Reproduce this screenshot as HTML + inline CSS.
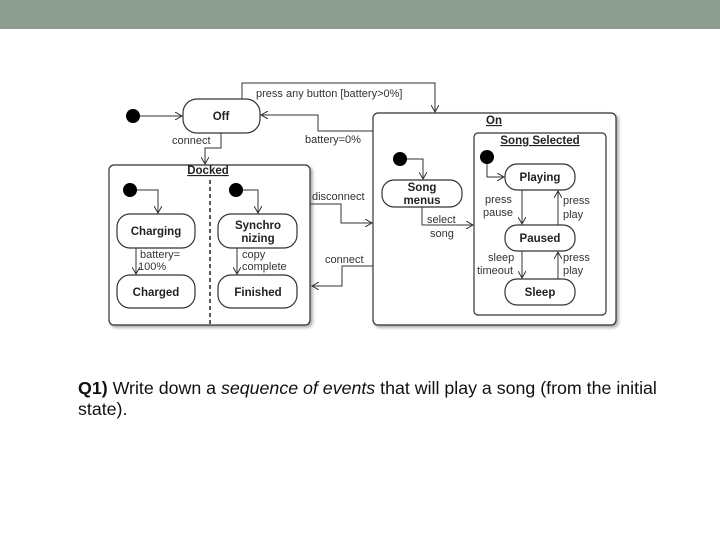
<!DOCTYPE html>
<html><head><meta charset="utf-8"><style>
body{margin:0;width:720px;height:540px;background:#fff;position:relative;overflow:hidden;font-family:"Liberation Sans",sans-serif}
.bar{position:absolute;left:0;top:0;width:720px;height:29px;background:#8c9c90}
.q{position:absolute;left:78px;top:378px;font-size:17.8px;line-height:21px;color:#111;width:600px}
svg{position:absolute;left:0;top:0}
</style></head><body>
<div class="bar"></div>
<svg width="720" height="540" font-family="Liberation Sans, sans-serif">
<defs><marker id="a" markerWidth="8" markerHeight="8" refX="7" refY="4" orient="auto" markerUnits="userSpaceOnUse"><path d="M0,0 L7,4 L0,8" fill="none" stroke="#333" stroke-width="1"/></marker>
<filter id="s"><feDropShadow dx="2" dy="2" stdDeviation="1.5" flood-color="#000" flood-opacity="0.35"/></filter></defs>
<g fill="#fff" stroke="#333" stroke-width="1.2">
<rect x="109" y="165" width="201" height="160" rx="5" filter="url(#s)"/>
<rect x="373" y="113" width="243" height="212" rx="5" filter="url(#s)"/>
<rect x="474" y="133" width="132" height="182" rx="4"/>
<rect x="183" y="99" width="77" height="34" rx="14"/>
<rect x="117" y="214" width="78" height="34" rx="13"/>
<rect x="117" y="275" width="78" height="33" rx="13"/>
<rect x="218" y="214" width="79" height="34" rx="13"/>
<rect x="218" y="275" width="79" height="33" rx="13"/>
<rect x="382" y="180" width="80" height="27" rx="12"/>
<rect x="505" y="164" width="70" height="26" rx="12"/>
<rect x="505" y="225" width="70" height="26" rx="12"/>
<rect x="505" y="279" width="70" height="26" rx="12"/>
</g>
<line x1="210" y1="180" x2="210" y2="325" stroke="#222" stroke-width="1.5" stroke-dasharray="4,3"/>
<g fill="#000"><circle cx="133" cy="116" r="7"/><circle cx="130" cy="190" r="7"/><circle cx="236" cy="190" r="7"/><circle cx="400" cy="159" r="7"/><circle cx="487" cy="157" r="7"/></g>
<g fill="none" stroke="#333" stroke-width="1" marker-end="url(#a)">
<path d="M140,116 H182"/>
<path d="M137,190 H158 V213"/>
<path d="M243,190 H258 V213"/>
<path d="M407,159 H423 V179"/>
<path d="M487,164 V177 H504"/>
<path d="M221,133 V148 H205 V164"/>
<path d="M242,99 V83 H435 V112"/>
<path d="M373,131 H318 V115 H261"/>
<path d="M310,204 H341 V223 H372"/>
<path d="M373,266 H342 V286 H312"/>
<path d="M136,248 V274"/>
<path d="M237,248 V274"/>
<path d="M422,207 V225 H473"/>
<path d="M522,190 V224"/>
<path d="M558,225 V191"/>
<path d="M522,251 V278"/>
<path d="M558,279 V252"/>
</g>
<g font-size="11" fill="#333">
<text x="256" y="97">press any button [battery&gt;0%]</text>
<text x="172" y="144">connect</text>
<text x="305" y="143">battery=0%</text>
<text x="312" y="200">disconnect</text>
<text x="325" y="263">connect</text>
<text x="140" y="258">battery=</text><text x="138" y="270">100%</text>
<text x="242" y="258">copy</text><text x="242" y="270">complete</text>
<text x="427" y="223">select</text><text x="430" y="237">song</text>
<text x="485" y="203">press</text><text x="483" y="216">pause</text>
<text x="563" y="204">press</text><text x="563" y="218">play</text>
<text x="488" y="261">sleep</text><text x="477" y="274">timeout</text>
<text x="563" y="261">press</text><text x="563" y="274">play</text>
</g>
<g font-size="11.5" font-weight="bold" fill="#222" text-anchor="middle">
<text x="221" y="120">Off</text>
<text x="156" y="235">Charging</text>
<text x="156" y="296">Charged</text>
<text x="258" y="229">Synchro</text><text x="258" y="242">nizing</text>
<text x="258" y="296">Finished</text>
<text x="422" y="191">Song</text><text x="422" y="204">menus</text>
<text x="540" y="181">Playing</text>
<text x="540" y="242">Paused</text>
<text x="540" y="296">Sleep</text>
<text x="208" y="174" text-decoration="underline">Docked</text>
<text x="494" y="124" text-decoration="underline">On</text>
<text x="540" y="144" text-decoration="underline">Song Selected</text>
</g>
</svg>
<div class="q"><b>Q1)</b> Write down a <i>sequence of events</i> that will play a song (from the initial<br>state).</div>
</body></html>
